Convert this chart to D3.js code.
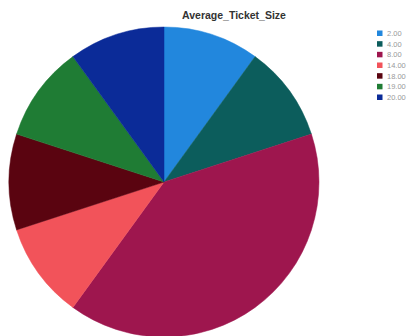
<!DOCTYPE html>
<html><head><meta charset="utf-8">
<script src="https://cdn.jsdelivr.net/npm/d3@7"></script>
<style>body{margin:0;background:#fff;}svg{display:block;}</style>
</head><body>
<svg id="c" width="410" height="336"></svg>
<script>
const title = "Average_Ticket_Size";
const categories = ["2.00","4.00","8.00","14.00","18.00","19.00","20.00"];
const values = [1,1,4,1,1,1,1];
const colors = ["#2287dd","#0c5d5c","#9e164e","#f2535a","#5a0410","#1f7c34","#0b2b98"];

const svg = d3.select("#c");
const cx = 164, cy = 182, r = 155;
const pie = d3.pie().sort(null).value(d => d.v);
const arc = d3.arc().innerRadius(0).outerRadius(r);
const data = categories.map((c,i)=>({c, v: values[i]}));
const color = d3.scaleOrdinal().domain(categories).range(colors);

svg.append("g").attr("transform",`translate(${cx},${cy})`)
  .selectAll("path").data(pie(data)).join("path")
  .attr("d", arc).attr("fill", d => color(d.data.c))
  .attr("stroke", d => color(d.data.c)).attr("stroke-width", 0.5);

svg.append("text").attr("x",234).attr("y",19).attr("text-anchor","middle")
  .attr("font-family","Liberation Sans, Arial, sans-serif").attr("font-weight","bold")
  .attr("font-size",10.5).attr("fill","#333").text(title);

const y = d3.scalePoint().domain(categories).range([33, 97]);
const lg = svg.append("g");
const items = lg.selectAll("g").data(categories).join("g")
  .attr("transform", d => `translate(377,${y(d)})`);
items.append("rect").attr("x",0).attr("y",-2.5).attr("width",5.5).attr("height",5.5)
  .attr("fill", d => color(d));
items.append("text").attr("x",10).attr("y",3)
  .attr("font-family","Liberation Sans, Arial, sans-serif").attr("font-size",7.5)
  .attr("fill","#999").text(d => d);
</script>
</body></html>
